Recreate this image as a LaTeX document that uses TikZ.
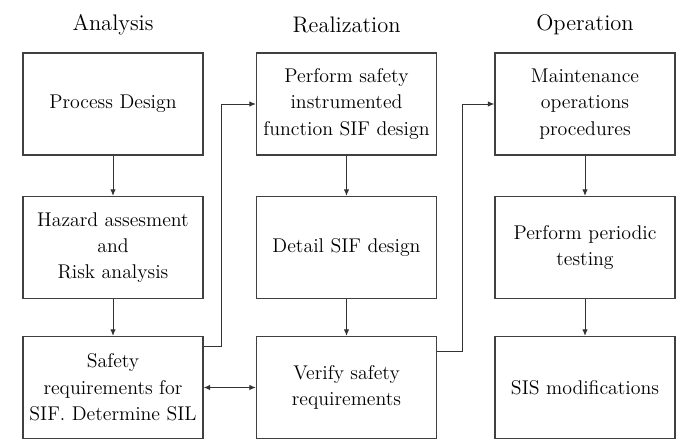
\documentclass[tikz,border=0pt]{standalone}
\usetikzlibrary{arrows.meta,positioning}

\begin{document}
\begin{tikzpicture}[
    stage/.style={draw=black!75, line width=0.75pt, minimum width=3.6cm, minimum height=2.04cm, align=center, inner sep=2pt, font=\fontsize{11.3}{15}\selectfont},
    head/.style={font=\fontsize{12.8}{15}\selectfont},
    arrow/.style={-{Latex[length=1.3mm,width=1.1mm]}, line width=0.55pt, black!80}
]
\useasboundingbox (0,0) rectangle (13.52,-8.78);

% Headings
\node[head] (ha) at (2.26,-0.5) {Analysis};
\node[head] (hr) at (6.93,-0.5) {Realization};
\node[head] (ho) at (11.70,-0.5) {Operation};

% Analysis
\node[stage] (pd) at (2.26,-2.08) {Process Design};
\node[stage] (hz) at (2.26,-4.95) {Hazard assesment\\and\\Risk analysis};
\node[stage] (sr) at (2.26,-7.75) {Safety\\requirements for\\SIF. Determine SIL};

% Realization
\node[stage] (sd) at (6.93,-2.08) {Perform safety\\instrumented\\function SIF design};
\node[stage] (ds) at (6.93,-4.95) {Detail SIF design};
\node[stage] (vs) at (6.93,-7.75) {Verify safety\\requirements};

% Operation
\node[stage] (mo) at (11.70,-2.08) {Maintenance\\operations\\procedures};
\node[stage] (pt) at (11.70,-4.95) {Perform periodic\\testing};
\node[stage] (sm) at (11.70,-7.75) {SIS modifications};

% Flow down each column
\draw[arrow] (pd) -- (hz);
\draw[arrow] (hz) -- (sr);
\draw[arrow] (sd) -- (ds);
\draw[arrow] (ds) -- (vs);
\draw[arrow] (mo) -- (pt);
\draw[arrow] (pt) -- (sm);

% Links between columns
\draw[arrow] ([yshift=-0.22cm]sr.north east) -- ++(0.36,0) |- (sd.west);
\draw[arrow] ([yshift=-0.32cm]vs.north east) -- ++(0.5,0) |- (mo.west);
\draw[arrow, {Latex[length=1.3mm,width=1.1mm]}-{Latex[length=1.3mm,width=1.1mm]}] (sr) -- (vs);

\end{tikzpicture}
\end{document}
